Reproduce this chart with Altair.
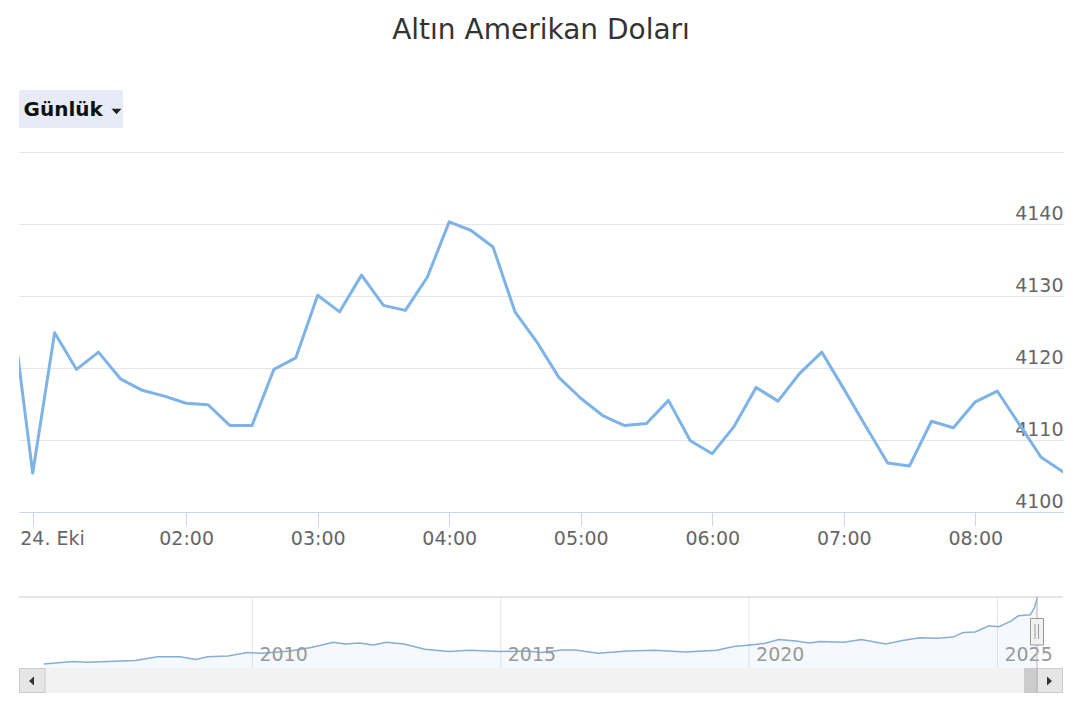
import altair as alt
import pandas as pd

# ---------------- data ----------------
title_text = "Altın Amerikan Doları"
range_button = "Günlük"

prices = [4129.4, 4105.4, 4124.9, 4119.8, 4122.2, 4118.5, 4116.9, 4116.1, 4115.1, 4114.9,
          4112.0, 4112.0, 4119.8, 4121.4, 4130.1, 4127.8, 4132.9, 4128.7, 4128.0, 4132.6,
          4140.3, 4139.1, 4136.8, 4127.8, 4123.6, 4118.7, 4115.8, 4113.4, 4112.0, 4112.3,
          4115.5, 4109.9, 4108.1, 4111.9, 4117.3, 4115.4, 4119.3, 4122.2, 4117.1, 4111.9,
          4106.8, 4106.4, 4112.6, 4111.7, 4115.3, 4116.8, 4112.2, 4107.6, 4105.6]
point_index = list(range(len(prices)))
tick_index = [1, 8, 14, 20, 26, 32, 38, 44]
tick_labels = ["24. Eki", "02:00", "03:00", "04:00", "05:00", "06:00", "07:00", "08:00"]
y_ticks = [4100, 4110, 4120, 4130, 4140, 4150]

nav_years = [2005.80, 2006.39, 2006.67, 2007.36, 2007.64, 2008.09, 2008.54, 2008.86, 2009.10,
             2009.51, 2009.90, 2010.21, 2010.76, 2011.18, 2011.63, 2011.87, 2012.15, 2012.43,
             2012.70, 2013.05, 2013.47, 2013.95, 2014.37, 2014.99, 2015.55, 2015.81, 2016.23,
             2016.50, 2016.96, 2017.55, 2018.10, 2018.72, 2019.35, 2019.69, 2020.01, 2020.32,
             2020.60, 2020.94, 2021.22, 2021.43, 2021.91, 2022.26, 2022.75, 2023.09, 2023.44,
             2023.79, 2024.10, 2024.31, 2024.55, 2024.83, 2025.03, 2025.28, 2025.42, 2025.66,
             2025.74, 2025.81]
nav_prices = [470, 601, 563, 640, 662, 870, 870, 717, 870,
              903, 1095, 1056, 1188, 1379, 1659, 1566, 1620, 1511,
              1659, 1566, 1281, 1149, 1226, 1149, 1188, 1095, 1242,
              1242, 1056, 1188, 1226, 1133, 1226, 1434, 1511, 1604,
              1812, 1735, 1620, 1697, 1659, 1812, 1566, 1752, 1905,
              1883, 1944, 2190, 2223, 2563, 2508, 2831, 3110, 3171,
              3521, 4140]
nav_grid_years = [2010, 2015, 2020, 2025]

# ---------------- layout ----------------
W = 1044
H_HEAD = 144
H_MAIN = 360
H_NAV = 181
FONT = "DejaVu Sans"

one = pd.DataFrame({"k": [0]})
base = alt.Chart(one)

# ---------------- header ----------------
title_mark = base.mark_text(text=title_text, font=FONT, fontSize=28, color="#333333",
                            align="center", baseline="alphabetic").encode(
    x=alt.value(522), y=alt.value(31))
btn_rect = base.mark_rect(color="#e6ebf5", cornerRadius=2).encode(
    x=alt.value(0), x2=alt.value(104), y=alt.value(82), y2=alt.value(120))
btn_text = base.mark_text(text=range_button, font=FONT, fontSize=20, fontWeight="bold",
                          color="#111111", align="left", baseline="alphabetic").encode(
    x=alt.value(4.5), y=alt.value(108))
btn_arrow = base.mark_point(shape="M-1,-0.55L1,-0.55L0,0.55Z", filled=True, size=100,
                            color="#222222", opacity=1).encode(
    x=alt.value(97.5), y=alt.value(103.5))
header = alt.layer(btn_rect, btn_text, btn_arrow, title_mark).properties(width=W, height=H_HEAD)

# ---------------- main chart ----------------
main_df = pd.DataFrame({"i": point_index, "v": prices})
x_expr = ("[" + ",".join("'" + t + "'" for t in tick_labels) + "][indexof(["
          + ",".join(str(t) for t in tick_index) + "], datum.value)]")
main = alt.Chart(main_df).mark_line(color="#7db3e6", strokeWidth=3, clip=True,
                                    strokeJoin="round", strokeCap="round").encode(
    x=alt.X("i:Q", scale=alt.Scale(domain=[0.375, 48], nice=False, zero=False),
            axis=alt.Axis(values=tick_index, labelExpr=x_expr, title=None, grid=False,
                          domainColor="#ccd6eb", tickColor="#ccd6eb", tickSize=14,
                          labelFontSize=19, labelColor="#666666", labelFont=FONT,
                          labelPadding=3, labelFlush=15, labelFlushOffset=13,
                          labelOverlap=False)),
    y=alt.Y("v:Q", scale=alt.Scale(domain=[4100, 4150], nice=False, zero=False),
            axis=alt.Axis(orient="right", values=y_ticks, format="d",
                          labelExpr="datum.value == 4150 ? '' : datum.label",
                          title=None, grid=True, gridColor="#e6e6e6", domain=False,
                          ticks=False, tickSize=0, labelPadding=0, labelAlign="right",
                          labelBaseline="alphabetic", labelOffset=-5, labelFontSize=19,
                          labelColor="#666666", labelFont=FONT)),
).properties(width=W, height=H_MAIN)

# ---------------- navigator ----------------
nav_df = pd.DataFrame({"year": nav_years, "price": nav_prices})
grid_df = pd.DataFrame({"year": nav_grid_years})
nx = alt.Scale(domain=[2005.30, 2026.32], nice=False, zero=False)
ny = alt.Scale(domain=[251, 4140], range=[156, 85], nice=False, zero=False)

nav_grid = alt.Chart(grid_df).mark_rule(color="#e6e6e6", strokeWidth=1).encode(
    x=alt.X("year:Q", scale=nx, axis=None), y=alt.value(85), y2=alt.value(156))
nav_area = alt.Chart(nav_df).mark_area(color="#7cb5ec", opacity=0.08).encode(
    x=alt.X("year:Q", scale=nx, axis=None),
    y=alt.Y("price:Q", scale=ny, axis=None), y2=alt.value(156))
nav_line = alt.Chart(nav_df).mark_line(color="#86aed4", strokeWidth=1.5).encode(
    x=alt.X("year:Q", scale=nx, axis=None),
    y=alt.Y("price:Q", scale=ny, axis=None))
nav_labels = alt.Chart(grid_df).mark_text(align="left", baseline="alphabetic", dx=7,
                                          font=FONT, fontSize=19, color="#999999").encode(
    x=alt.X("year:Q", scale=nx, axis=None), y=alt.value(149),
    text=alt.Text("year:Q", format="d"))
nav_top = base.mark_rule(color="#cccccc", strokeWidth=1).encode(
    x=alt.value(0), x2=alt.value(W), y=alt.value(85))
track = base.mark_rect(color="#f2f2f2").encode(
    x=alt.value(0), x2=alt.value(W), y=alt.value(156), y2=alt.value(181))
thumb = base.mark_rect(color="#cccccc").encode(
    x=alt.value(1005), x2=alt.value(1018), y=alt.value(156), y2=alt.value(181))
btn_l = base.mark_rect(fill="#e6e6e6", stroke="#cccccc", strokeWidth=1).encode(
    x=alt.value(0.5), x2=alt.value(26), y=alt.value(156.5), y2=alt.value(180.5))
btn_r = base.mark_rect(fill="#e6e6e6", stroke="#cccccc", strokeWidth=1).encode(
    x=alt.value(1018), x2=alt.value(1043.5), y=alt.value(156.5), y2=alt.value(180.5))
arr_l = base.mark_point(shape="M0.55,-1L0.55,1L-0.55,0Z", filled=True, size=81,
                        color="#333333", opacity=1).encode(x=alt.value(12.5), y=alt.value(169))
arr_r = base.mark_point(shape="M-0.55,-1L-0.55,1L0.55,0Z", filled=True, size=81,
                        color="#333333", opacity=1).encode(x=alt.value(1030.5), y=alt.value(169))
mask_line = base.mark_rule(color="#b3b3b3", strokeWidth=1).encode(
    x=alt.value(1018), y=alt.value(85), y2=alt.value(181))
handle = base.mark_rect(fill="#f2f2f2", stroke="#999999", strokeWidth=1).encode(
    x=alt.value(1011.5), x2=alt.value(1024.5), y=alt.value(106.5), y2=alt.value(133))
handle_l1 = base.mark_rule(color="#999999", strokeWidth=1).encode(
    x=alt.value(1016), y=alt.value(112), y2=alt.value(127))
handle_l2 = base.mark_rule(color="#999999", strokeWidth=1).encode(
    x=alt.value(1019.5), y=alt.value(112), y2=alt.value(127))

nav = alt.layer(nav_grid, nav_area, nav_line, nav_labels, nav_top, track, thumb,
                btn_l, btn_r, arr_l, arr_r, mask_line, handle, handle_l1, handle_l2
                ).properties(width=W, height=H_NAV)

chart = alt.vconcat(header, main, nav, spacing=0, bounds="flush").resolve_scale(
    x="independent", y="independent"
).properties(
    padding={"left": 10, "top": 0, "right": 0, "bottom": 0}
).configure(font=FONT).configure_view(stroke="transparent", strokeWidth=0)

chart.save("out.html", embed_options={"renderer": "svg", "actions": False})
